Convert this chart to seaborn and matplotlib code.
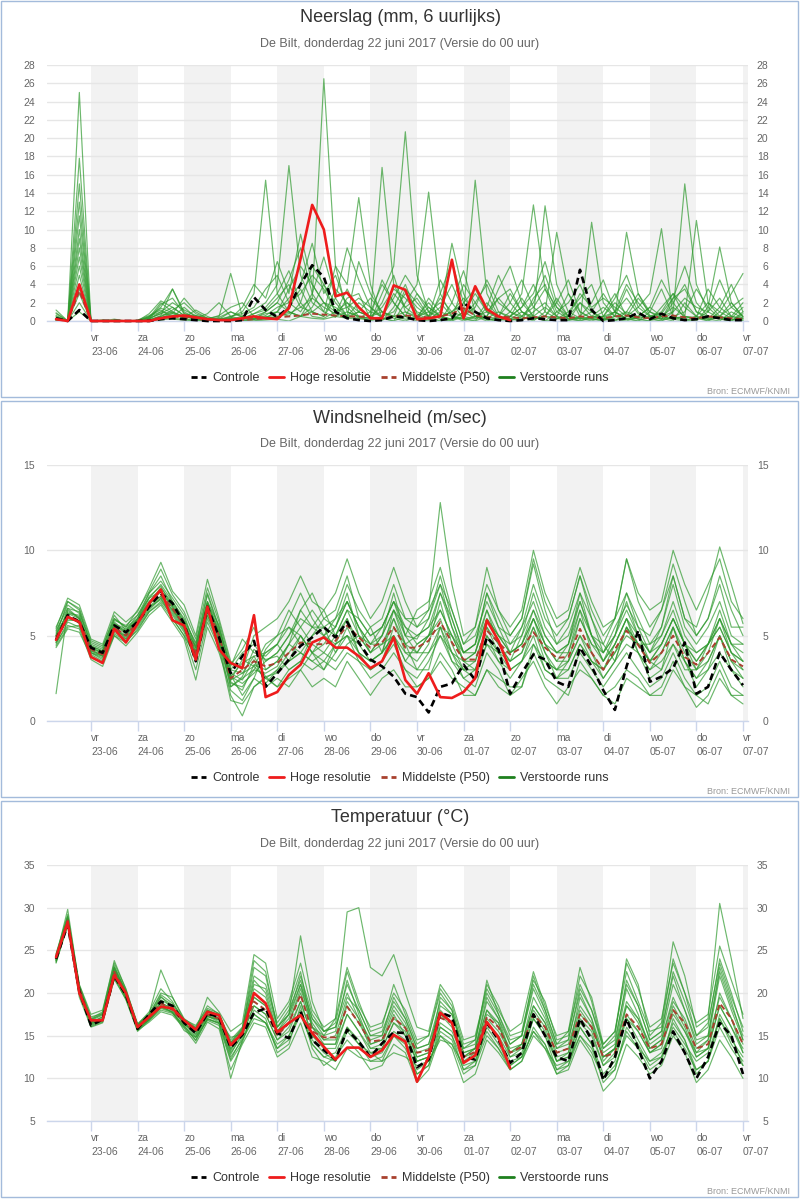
import matplotlib
matplotlib.use('Agg')
import pandas as pd
import matplotlib.pyplot as plt
import matplotlib.dates as mdates
from matplotlib.lines import Line2D
from matplotlib.patches import Rectangle
import seaborn as sns

# ── Data ─────────────────────────────────────────────────
tijden = pd.date_range('2017-06-22 06:00', periods=60, freq='6h')
dagen = pd.date_range('2017-06-23', '2017-07-07', freq='D')
dag_labels = ['vr\n23-06', 'za\n24-06', 'zo\n25-06', 'ma\n26-06', 'di\n27-06',
              'wo\n28-06', 'do\n29-06', 'vr\n30-06', 'za\n01-07', 'zo\n02-07',
              'ma\n03-07', 'di\n04-07', 'wo\n05-07', 'do\n06-07', 'vr\n07-07']

# neerslag (mm per 6 uur)
neerslag_controle = [0.3, 0, 1.2, 0, 0, 0, 0, 0, 0, 0.2, 0.3, 0.2, 0.1, 0, 0, 0, 0.1, 2.6, 1.2,
                     0.45, 1.5, 4.0, 6.1, 4.8, 1.0, 0.3, 0.1, 0, 0.1, 0.5, 0.4, 0.1, 0, 0.1, 0.3,
                     2.0, 1.0, 0.3, 0.1, 0, 0.1, 0.3, 0.2, 0.1, 0.1, 5.6, 1.2, 0, 0.1, 0.3, 0.9,
                     0.2, 0.8, 0.3, 0.1, 0.2, 0.5, 0.3, 0.1, 0.1]
neerslag_hoge_res = [0.2, 0, 4.0, 0, 0, 0, 0, 0, 0, 0.3, 0.5, 0.6, 0.4, 0.2, 0.1, 0.1, 0.3, 0.5, 0.3,
                     0.2, 1.4, 6.8, 12.7, 10.0, 2.7, 3.1, 1.5, 0.3, 0.3, 3.9, 3.4, 0.2, 0.3, 0.5, 6.7,
                     0.3, 3.8, 1.3, 0.5, 0.1]
neerslag_mediaan = [0.2, 0, 3.3, 0, 0, 0, 0, 0, 0.1, 0.4, 0.5, 0.4, 0.2, 0.1, 0.1, 0.1, 0.1, 0.2, 0.3,
                    0.4, 0.5, 0.6, 0.8, 0.7, 0.6, 0.5, 0.5, 0.4, 0.3, 0.5, 0.6, 0.5, 0.4, 0.5, 0.8,
                    1.4, 0.6, 0.4, 0.5, 0.4, 0.3, 0.4, 0.5, 0.4, 0.3, 0.5, 0.4, 0.3, 0.5, 0.6, 0.4,
                    0.3, 0.5, 0.6, 0.4, 0.3, 0.5, 0.4, 0.3, 0.2]
neerslag_runs = [
    [0.8, 0, 25.0, 0, 0, 0.1, 0, 0, 0.3, 0.8, 1.5, 0.6, 0.2, 0, 0.3, 0.2, 0.5, 1.2, 2.0, 4.0, 17.0, 5.0, 2.0,
     1.0, 0.4, 2.5, 3.0, 0.2, 0, 1.5, 4.0, 0.8, 0.2, 0, 2.0, 5.5, 1.0, 0.2, 0, 1.0, 3.0, 12.7, 3.5,
     0.5, 0, 2.0, 1.0, 0.2, 0, 1.0, 3.0, 0.6, 0.2, 2.0, 4.0, 1.0, 0.2, 0, 1.0, 0.3],
    [0.2, 0, 17.8, 0, 0, 0, 0, 0, 0.5, 1.5, 3.5, 1.0, 0.3, 0.8, 2.0, 0.5, 1.0, 3.0, 15.4, 3.0, 1.0, 0.5, 2.5,
     26.5, 6.0, 1.0, 0.5, 0.2, 2.0, 5.0, 1.0, 0.3, 0, 3.0, 6.5, 2.0, 0.5, 0, 0.5, 3.0, 1.0, 0.5, 12.6,
     4.0, 1.0, 0.3, 0, 0.5, 2.0, 0.8, 0.2, 0, 1.5, 3.0, 0.5, 11.0, 2.0, 0.5, 0.2, 0],
    [0, 0, 15.0, 0, 0, 0, 0, 0, 0.2, 1.0, 0.8, 2.5, 1.0, 0.3, 0.5, 5.2, 0.5, 0.2, 1.0, 2.0, 4.5, 8.0, 3.0,
     1.0, 6.0, 4.0, 13.5, 4.0, 0.3, 0, 2.0, 4.0, 14.1, 3.0, 0.5, 0.2, 0, 1.5, 5.0, 2.0, 0.5, 0, 1.0,
     9.7, 3.0, 0.5, 0.2, 0, 1.0, 2.5, 0.8, 0.3, 0, 1.0, 15.0, 4.0, 1.0, 0.3, 0, 0.8],
    [0, 0, 13.0, 0, 0, 0, 0, 0, 0.4, 2.0, 1.0, 0.3, 0, 0, 0, 0.3, 1.5, 4.0, 2.5, 6.5, 3.0, 9.5, 4.0,
     2.0, 0.5, 0.3, 1.0, 0.5, 16.8, 4.0, 1.5, 0.5, 2.0, 0.5, 0, 1.0, 15.4, 3.0, 0.5, 0.2, 0, 2.5, 4.0,
     1.0, 0.3, 0, 10.8, 2.0, 0.5, 0.2, 0, 1.0, 3.5, 0.5, 0.2, 0, 1.5, 8.1, 2.0, 0.5],
    [0.5, 0, 10.0, 0, 0.1, 0, 0, 0, 0, 0.5, 1.0, 0.5, 0.2, 0, 0.2, 0, 0.3, 0.8, 1.5, 3.0, 5.5, 2.0, 6.0,
     4.0, 1.0, 2.0, 0.5, 0, 3.0, 6.0, 20.7, 5.0, 1.0, 0.2, 0, 0.5, 2.0, 4.0, 1.0, 0.3, 0, 1.0, 2.0,
     0.5, 3.0, 1.0, 0.3, 0, 0.5, 9.7, 3.0, 1.0, 0.3, 0, 2.0, 0.5, 0, 1.0, 3.0, 5.2],
    [0.3, 0, 8.0, 0, 0, 0, 0, 0.1, 0.6, 1.2, 0.4, 1.5, 0.4, 0.1, 0, 0.2, 0, 0.3, 0.8, 1.0, 2.5, 4.0, 8.5,
     3.0, 5.0, 1.5, 0.3, 0, 0.5, 1.0, 3.0, 1.5, 0.5, 4.5, 2.0, 0.3, 0, 0.5, 3.5, 6.0, 2.0, 0.5, 0,
     1.0, 2.0, 4.0, 1.0, 0.3, 0, 0.5, 1.5, 3.0, 10.1, 0.5, 0, 0.2, 1.0, 2.5, 0.5, 0.2],
    [0.1, 0, 6.0, 0, 0, 0, 0, 0, 0.1, 0.6, 3.5, 0.8, 0.3, 0.1, 0.2, 1.0, 0.4, 0.2, 0.5, 0.3, 1.5, 3.5, 1.0,
     0.5, 2.5, 8.0, 4.5, 1.5, 0.3, 0, 0.5, 0.2, 2.5, 1.0, 8.5, 3.0, 0.5, 0.2, 0, 0.5, 1.5, 4.0, 1.0,
     0.3, 0, 0.5, 2.0, 4.5, 1.0, 0.3, 0, 0.5, 0.8, 2.5, 6.0, 2.0, 0.5, 0.2, 0, 1.0],
    [0, 0, 5.0, 0, 0, 0, 0, 0, 0.3, 0.8, 0.6, 0.4, 1.2, 0.5, 0, 0, 0.2, 0.5, 1.0, 2.0, 1.0, 0.5, 1.5,
     4.0, 2.0, 0.5, 6.5, 3.0, 1.0, 0.3, 0, 0.5, 1.0, 2.0, 0.5, 0, 0.5, 1.0, 2.5, 1.0, 0.3, 0.2, 0.5,
     2.5, 0.5, 0, 0.3, 1.0, 3.0, 0.5, 0.2, 0, 0.5, 1.5, 0.5, 0.3, 0, 0.5, 2.0, 0.4],
    [0.4, 0, 4.0, 0, 0, 0.2, 0, 0, 0.8, 2.2, 1.5, 0.6, 0.1, 0, 0.1, 0.4, 0.1, 0, 0.3, 0.5, 0.8, 1.5, 2.5,
     1.5, 0.8, 3.5, 1.0, 0.5, 4.5, 2.0, 0.5, 0, 0.3, 0.5, 1.0, 2.5, 1.0, 0.5, 0.2, 0, 0.5, 2.0, 5.0,
     1.5, 0.2, 0, 0.5, 1.5, 0.5, 3.5, 1.0, 0.2, 0, 0.5, 1.0, 3.5, 1.5, 0.3, 0, 0],
    [0, 0, 3.0, 0, 0, 0, 0, 0, 0, 0.4, 0.8, 0.3, 0.6, 0.2, 0, 0, 0.1, 0.2, 0.4, 1.0, 0.5, 2.0, 0.5,
     0.3, 1.0, 0.5, 2.0, 1.0, 0.5, 3.0, 1.5, 2.5, 0.5, 0, 0.2, 1.0, 3.0, 1.0, 0.3, 0.5, 2.5, 0.5, 0,
     0.2, 1.0, 2.5, 4.0, 0.5, 0.2, 0, 0.5, 1.5, 0.5, 0.2, 0, 0.5, 2.0, 1.0, 0.3, 1.5],
    [0, 0, 2.0, 0, 0, 0, 0, 0, 0.2, 0.3, 0.2, 0.1, 0, 0, 0, 0, 0, 0.2, 0.2, 0.5, 1.0, 0.5, 0.3,
     0.2, 0.5, 1.0, 0.5, 0.3, 0.2, 0.5, 1.0, 0.5, 0.2, 1.0, 0.5, 0.2, 0.5, 0.3, 1.0, 0.5, 0.2, 0.5, 1.5,
     0.5, 0.2, 0.3, 0.2, 0.2, 0.5, 1.0, 0.5, 0.3, 0.5, 0.2, 0.5, 0.3, 0.2, 0.5, 0.2, 0.1],
    [1.2, 0, 1.0, 0, 0, 0, 0, 0, 0, 0.1, 0.3, 0.2, 0, 0, 0, 0.3, 0, 0, 0.1, 0.2, 0, 0.5, 1.0,
     2.0, 1.0, 0.3, 0.2, 0.5, 1.0, 0.5, 0.2, 0.3, 1.5, 0.5, 0.2, 0.5, 0.2, 2.0, 0.5, 0.2, 1.0, 0.3, 0.5,
     0.3, 0.5, 0.2, 0.5, 0.3, 1.0, 0.2, 0.3, 0.5, 0.2, 0.3, 0.5, 0.2, 0.5, 0.3, 0.5, 0.3],
    [0.6, 0, 7.0, 0, 0, 0, 0, 0, 0.2, 1.8, 2.5, 0.8, 0.5, 0.2, 0.6, 1.5, 2.0, 0.5, 0.3, 1.0, 3.5, 6.0, 4.0,
     2.0, 1.5, 0.5, 1.0, 2.5, 1.0, 0.5, 3.5, 2.0, 0.5, 1.5, 4.0, 1.0, 0.3, 0.5, 2.5, 3.5, 1.0, 0.2, 0.5,
     2.0, 4.5, 1.0, 0.3, 0.5, 2.5, 5.0, 1.5, 0.5, 1.0, 3.0, 1.5, 0.5, 3.5, 1.5, 0.5, 2.0],
    [0.2, 0, 11.5, 0, 0, 0, 0, 0, 0.5, 1.0, 2.0, 1.2, 0.6, 0.3, 0.1, 0.5, 0.8, 1.5, 3.5, 5.0, 2.0, 1.0, 3.0,
     7.0, 2.5, 0.5, 0.3, 1.0, 4.0, 2.0, 0.5, 3.0, 1.0, 0.5, 0.2, 4.0, 2.0, 0.3, 0, 0.5, 1.5, 3.0, 6.5,
     2.0, 0.5, 0.3, 1.0, 3.0, 1.0, 0.2, 0.5, 1.5, 4.5, 2.0, 0.3, 0.5, 0.2, 1.5, 4.0, 1.0],
    [0, 0, 3.5, 0, 0.1, 0, 0, 0, 0.1, 0.5, 1.2, 2.0, 0.8, 0.3, 0.2, 0.5, 0.2, 0.8, 1.2, 2.5, 4.0, 1.5, 1.0,
     0.5, 3.5, 2.0, 1.0, 0.5, 1.5, 3.5, 2.5, 1.0, 0.5, 2.5, 1.0, 0.5, 1.5, 4.5, 2.0, 1.0, 0.5, 1.5, 3.5,
     1.5, 0.5, 2.0, 0.5, 0.5, 1.0, 4.0, 2.0, 0.5, 0.2, 2.5, 3.5, 1.0, 0.5, 0.5, 1.5, 2.5],
    [0.9, 0, 9.0, 0, 0, 0, 0, 0, 0.4, 1.4, 0.9, 0.5, 0.3, 0, 0.4, 1.0, 0.5, 0.2, 0.6, 1.5, 2.0, 3.0, 5.0,
     3.5, 1.0, 1.5, 2.5, 1.5, 0.5, 2.5, 5.0, 3.0, 1.5, 0.5, 1.0, 2.0, 3.5, 1.0, 0.5, 2.0, 4.5, 1.5, 0.5,
     0.3, 0.5, 3.0, 1.5, 2.5, 1.5, 0.5, 2.5, 1.0, 0.5, 1.0, 2.5, 1.5, 1.0, 4.5, 1.5, 0.5],
]

# windsnelheid (m/sec)
wind_controle = [4.75, 6.2, 5.8, 4.3, 4.0, 5.6, 5.2, 5.8, 6.7, 7.5, 6.9, 5.7, 3.5, 6.7, 4.9,
                 2.8, 3.8, 4.7, 2.0, 2.8, 3.6, 4.4, 4.9, 5.5, 4.9, 5.8, 4.6, 3.6, 3.2, 2.6, 1.6,
                 1.4, 0.5, 2.0, 2.2, 3.3, 2.4, 4.9, 4.2, 1.6, 2.8, 3.9, 3.6, 2.3, 2.0, 4.3, 3.2,
                 1.8, 0.65, 3.2, 5.3, 2.3, 2.6, 3.1, 4.6, 1.6, 2.0, 4.0, 3.0, 2.1]
wind_hoge_res = [4.75, 6.1, 5.8, 3.75, 3.4, 5.4, 4.6, 5.7, 6.9, 7.7, 5.9, 5.6, 3.6, 6.7, 4.2,
                 3.4, 3.1, 6.2, 1.4, 1.7, 2.7, 3.3, 4.6, 4.9, 4.3, 4.3, 3.8, 3.1, 3.5, 4.9, 2.4,
                 1.6, 2.8, 1.4, 1.35, 1.7, 2.5, 5.9, 4.7, 3.0]
wind_mediaan = [4.9, 6.1, 5.9, 4.2, 3.9, 5.5, 5.0, 5.8, 6.8, 7.4, 6.6, 5.6, 4.0, 6.6, 5.0,
                2.5, 3.0, 3.5, 3.2, 3.4, 4.0, 4.6, 4.5, 4.5, 4.7, 5.6, 4.9, 4.3, 4.6, 5.5, 4.3,
                4.3, 4.7, 5.8, 4.6, 3.6, 3.6, 5.3, 4.6, 3.9, 4.3, 5.2, 4.3, 3.7, 3.75, 5.4, 4.0,
                3.0, 4.2, 5.3, 4.45, 3.4, 4.0, 5.0, 3.75, 3.3, 4.0, 4.9, 3.6, 3.2]
wind_runs = [
    [1.6, 6.5, 6.0, 4.0, 3.6, 5.2, 4.8, 5.5, 6.5, 7.2, 6.0, 5.0, 3.8, 6.2, 4.6, 2.0, 2.5, 3.0, 2.8,
     3.2, 4.5, 5.5, 6.5, 5.5, 6.0, 7.0, 5.5, 4.0, 5.0, 6.5, 5.0, 4.8, 6.0, 8.5, 6.0, 4.0, 4.5, 7.5, 5.5,
     4.0, 5.5, 7.0, 5.0, 4.0, 4.5, 7.5, 5.0, 3.5, 5.0, 6.5, 5.0, 3.5, 4.5, 6.0, 4.5, 3.0, 4.0, 6.0, 4.0, 3.5],
    [5.0, 7.0, 6.5, 4.5, 4.2, 6.0, 5.5, 6.0, 7.5, 8.5, 7.0, 6.0, 4.5, 7.5, 5.5, 3.0, 4.0, 4.5, 3.5,
     4.0, 5.0, 6.5, 5.5, 5.0, 6.0, 8.0, 6.5, 5.5, 6.0, 8.0, 6.0, 5.5, 6.5, 12.8, 8.0, 5.0, 5.5, 9.0, 6.5,
     5.0, 6.0, 9.5, 7.0, 5.5, 6.0, 8.5, 6.0, 4.5, 6.0, 9.5, 7.0, 5.5, 6.5, 8.5, 6.0, 5.5, 7.5, 10.2, 8.0, 5.7],
    [4.5, 5.8, 5.5, 3.9, 3.5, 5.0, 4.6, 5.4, 6.4, 7.0, 6.2, 5.2, 3.5, 6.0, 4.5, 1.5, 0.3, 2.0, 2.5,
     2.0, 3.0, 3.5, 3.0, 3.5, 3.0, 4.0, 3.5, 2.5, 3.0, 4.0, 3.0, 2.0, 2.5, 3.5, 2.5, 2.0, 1.5, 3.0, 2.0,
     1.5, 2.5, 3.5, 2.0, 1.0, 2.0, 3.0, 2.5, 1.5, 1.0, 2.5, 2.0, 1.5, 2.0, 3.5, 2.0, 0.8, 1.5, 3.0, 1.5, 1.0],
    [5.2, 6.8, 6.3, 4.6, 4.3, 6.2, 5.3, 6.2, 7.5, 8.2, 7.2, 6.2, 4.3, 7.4, 5.4, 3.2, 4.8, 4.0, 3.8,
     4.5, 6.0, 7.5, 6.0, 5.0, 5.5, 7.0, 5.5, 4.5, 5.0, 7.5, 5.0, 6.5, 7.0, 9.0, 6.5, 4.5, 5.0, 7.0, 5.5,
     5.0, 6.0, 9.2, 6.5, 4.5, 5.5, 7.5, 6.0, 4.0, 5.5, 6.8, 5.5, 5.0, 6.5, 9.2, 7.0, 5.0, 6.0, 8.5, 6.5, 5.0],
    [4.8, 6.0, 5.8, 4.0, 3.7, 5.4, 4.9, 5.6, 6.6, 7.2, 6.4, 5.4, 3.8, 6.4, 4.8, 2.2, 2.0, 3.0, 4.0,
     4.5, 3.5, 4.0, 5.0, 5.5, 4.0, 5.0, 4.0, 3.5, 4.0, 5.0, 3.5, 3.0, 4.0, 5.0, 4.0, 3.0, 3.0, 4.5, 3.5,
     3.0, 3.5, 4.5, 3.5, 3.0, 3.0, 4.5, 3.5, 2.5, 3.5, 4.5, 4.0, 3.0, 3.5, 4.5, 3.5, 2.5, 3.0, 4.0, 3.0, 2.5],
    [5.4, 7.2, 6.8, 4.8, 4.5, 6.4, 5.8, 6.4, 7.8, 9.3, 7.6, 6.8, 5.0, 8.3, 6.0, 3.5, 3.0, 5.0, 5.5,
     6.0, 7.0, 8.5, 7.0, 6.5, 7.5, 9.5, 7.5, 6.0, 7.0, 9.0, 7.0, 5.5, 6.0, 8.0, 6.5, 4.5, 5.5, 8.0, 6.5,
     5.5, 6.5, 10.0, 7.5, 6.0, 6.5, 9.0, 7.0, 5.5, 6.0, 9.5, 7.5, 6.5, 7.0, 10.0, 8.0, 6.5, 8.0, 9.5, 7.0, 6.0],
    [4.6, 5.6, 5.4, 3.6, 3.2, 5.0, 4.4, 5.2, 6.2, 6.8, 5.8, 4.8, 2.4, 5.5, 4.0, 1.8, 1.2, 2.5, 2.0,
     2.5, 2.0, 3.0, 4.0, 3.0, 4.0, 5.5, 4.0, 3.0, 3.5, 4.5, 3.0, 2.5, 3.5, 5.0, 3.5, 2.5, 2.0, 4.0, 3.0,
     1.5, 2.0, 4.5, 3.0, 2.5, 2.5, 4.0, 3.0, 2.0, 3.0, 4.0, 3.0, 2.0, 2.5, 4.0, 2.5, 1.5, 2.0, 3.5, 2.0, 1.5],
    [5.0, 6.4, 6.1, 4.3, 4.0, 5.7, 5.1, 6.0, 7.0, 7.8, 6.9, 5.8, 4.2, 6.9, 5.2, 2.6, 2.2, 2.8, 3.5,
     4.0, 5.0, 6.0, 5.5, 5.5, 5.0, 6.5, 5.0, 4.5, 5.5, 7.0, 5.0, 4.0, 5.0, 7.5, 5.5, 3.5, 4.0, 6.0, 5.0,
     4.0, 4.5, 6.5, 5.0, 4.0, 4.0, 6.0, 4.5, 3.5, 4.5, 6.0, 5.0, 4.0, 5.0, 6.5, 4.5, 3.5, 4.5, 6.5, 4.5, 3.5],
    [4.4, 5.5, 5.6, 4.1, 3.8, 5.3, 5.0, 5.9, 7.2, 8.0, 7.0, 5.9, 4.6, 7.0, 5.6, 3.0, 2.8, 3.8, 2.6,
     2.8, 3.5, 4.0, 3.5, 3.0, 4.5, 6.0, 4.0, 3.5, 4.0, 6.0, 4.0, 3.5, 4.5, 7.0, 4.5, 3.0, 2.5, 4.5, 4.0,
     3.0, 3.5, 5.5, 3.5, 3.0, 4.0, 6.5, 4.0, 2.5, 3.5, 5.5, 4.0, 3.0, 4.0, 5.5, 3.5, 2.0, 3.0, 5.0, 3.0, 2.0],
    [5.3, 6.6, 6.4, 4.4, 4.1, 5.9, 5.6, 6.2, 7.2, 7.6, 6.8, 5.7, 3.6, 6.4, 5.1, 2.4, 3.6, 3.2, 4.5,
     5.0, 6.5, 5.5, 4.5, 4.0, 5.0, 6.5, 6.0, 5.0, 5.5, 7.0, 5.5, 5.0, 5.5, 7.5, 6.0, 4.0, 4.5, 6.5, 5.0,
     4.5, 5.0, 7.5, 5.5, 4.5, 5.0, 7.0, 5.0, 4.0, 5.0, 7.5, 5.5, 4.0, 5.5, 8.0, 5.5, 4.5, 5.5, 7.0, 5.0, 4.5],
    [4.7, 6.2, 5.7, 4.0, 3.8, 5.6, 5.2, 5.7, 6.9, 7.3, 6.5, 5.5, 4.1, 6.7, 4.7, 2.8, 2.4, 3.6, 2.2,
     3.0, 4.0, 5.0, 4.0, 5.0, 4.5, 5.0, 4.5, 5.5, 4.0, 5.0, 3.5, 4.5, 5.0, 6.0, 4.0, 2.5, 3.0, 5.0, 4.0,
     3.5, 4.0, 5.5, 4.0, 2.5, 3.5, 5.0, 3.5, 3.0, 4.0, 5.0, 4.5, 3.5, 3.0, 4.5, 3.0, 3.0, 3.5, 5.0, 3.5, 2.5],
    [5.1, 6.3, 6.2, 4.2, 4.0, 5.5, 4.8, 5.8, 6.7, 7.1, 6.3, 5.3, 3.9, 6.2, 4.6, 2.3, 1.8, 3.3, 3.0,
     3.5, 4.5, 4.0, 3.5, 4.0, 3.5, 4.5, 5.0, 4.0, 4.5, 5.0, 4.0, 4.0, 4.0, 5.5, 5.0, 3.5, 3.5, 5.5, 4.5,
     3.5, 4.0, 6.0, 4.5, 3.5, 3.5, 5.0, 4.0, 3.0, 4.0, 5.5, 4.5, 3.5, 4.0, 5.5, 4.0, 3.0, 4.5, 5.5, 4.0, 3.0],
    [4.9, 5.9, 5.9, 4.3, 4.0, 5.8, 5.2, 6.0, 7.3, 7.9, 6.7, 5.4, 4.4, 6.9, 5.0, 2.0, 2.6, 4.2, 3.6,
     3.8, 3.0, 3.5, 5.0, 6.0, 5.5, 7.5, 5.0, 4.0, 5.0, 6.5, 4.5, 5.0, 5.5, 6.5, 5.0, 3.5, 4.0, 6.5, 4.5,
     3.5, 5.0, 6.5, 4.5, 4.0, 4.5, 7.0, 5.0, 3.5, 4.5, 6.0, 4.5, 4.5, 5.0, 7.0, 5.0, 4.0, 4.5, 6.0, 4.5, 4.5],
    [4.3, 5.4, 5.2, 3.8, 3.4, 5.1, 4.7, 5.3, 6.4, 6.9, 6.0, 5.0, 3.0, 5.8, 4.3, 1.2, 1.0, 2.0, 2.6,
     2.0, 2.5, 3.0, 2.0, 2.5, 2.0, 3.5, 2.5, 1.5, 2.5, 3.0, 2.0, 2.0, 2.5, 4.0, 3.0, 1.5, 1.5, 3.0, 2.5,
     2.0, 2.0, 4.0, 2.5, 2.0, 1.5, 3.5, 2.5, 1.5, 2.0, 3.0, 2.5, 1.5, 1.5, 3.0, 2.0, 1.5, 1.0, 2.5, 1.5, 1.5],
    [4.6, 6.6, 6.0, 4.1, 3.9, 5.7, 5.4, 5.9, 6.8, 7.6, 6.6, 5.6, 4.0, 7.0, 5.3, 2.7, 1.5, 2.5, 4.2,
     5.0, 5.5, 4.5, 5.5, 6.5, 5.0, 6.0, 4.5, 3.5, 4.0, 6.5, 5.5, 4.5, 5.0, 5.5, 3.5, 3.0, 3.5, 5.5, 4.0,
     4.0, 4.5, 6.0, 4.0, 3.0, 3.5, 6.0, 4.5, 4.0, 5.0, 7.0, 5.0, 4.0, 4.5, 6.0, 4.5, 3.5, 4.5, 5.5, 4.0, 3.5],
    [5.5, 7.0, 6.6, 4.7, 4.4, 6.0, 5.5, 6.5, 7.6, 8.9, 7.4, 6.4, 4.8, 7.8, 5.8, 3.3, 4.2, 5.5, 3.0,
     3.5, 4.5, 6.5, 7.5, 6.0, 6.5, 8.5, 6.0, 5.0, 5.5, 7.0, 6.0, 6.0, 6.5, 8.0, 5.5, 4.0, 4.5, 7.5, 6.0,
     4.5, 5.5, 8.0, 6.0, 5.0, 6.0, 8.5, 6.5, 5.0, 6.0, 7.5, 6.0, 4.5, 5.5, 8.5, 6.0, 5.0, 6.0, 8.0, 5.5, 5.5],
    [4.8, 6.1, 5.9, 4.2, 3.8, 5.5, 5.0, 5.7, 6.7, 7.3, 6.5, 5.6, 3.9, 6.6, 4.9, 2.4, 2.8, 3.2, 2.5,
     3.0, 3.5, 5.0, 4.0, 3.5, 4.5, 5.0, 3.5, 3.0, 3.5, 5.5, 4.5, 3.0, 3.0, 5.5, 4.0, 3.5, 3.0, 5.0, 3.5,
     2.5, 3.5, 5.0, 3.0, 2.5, 3.0, 4.5, 3.5, 3.0, 4.5, 6.0, 4.0, 2.5, 3.0, 5.5, 3.5, 2.5, 3.5, 5.0, 3.5, 3.0],
    [5.0, 6.3, 6.0, 4.4, 4.1, 5.6, 5.3, 5.9, 7.0, 7.6, 6.7, 5.8, 4.3, 6.8, 5.2, 2.6, 3.4, 3.8, 4.0,
     4.5, 5.5, 5.0, 4.0, 4.5, 5.5, 7.0, 5.5, 4.5, 4.5, 6.0, 4.5, 4.0, 5.0, 6.5, 5.0, 4.0, 4.0, 6.0, 5.0,
     4.0, 4.5, 6.0, 4.5, 3.5, 4.5, 6.5, 5.0, 4.5, 3.5, 5.5, 4.5, 3.5, 4.5, 6.0, 4.5, 4.0, 4.5, 6.0, 4.5, 4.0],
]

# temperatuur (graden C)
temp_controle = [24.0, 28.0, 20.2, 16.2, 16.9, 22.0, 19.8, 15.8, 17.5, 19.0, 18.5, 16.5, 15.3, 17.6, 17.2,
                 13.6, 15.1, 17.7, 18.2, 15.3, 14.7, 17.8, 14.5, 13.3, 12.2, 15.7, 14.3, 12.5, 14.1, 15.4,
                 15.3, 11.3, 12.2, 17.7, 17.2, 12.5, 12.2, 16.5, 14.5, 11.8, 13.0, 17.5, 15.0, 12.5, 12.0,
                 17.0, 14.5, 9.8, 12.5, 17.0, 13.5, 10.0, 12.0, 15.5, 13.0, 10.0, 12.5, 16.5, 15.0, 10.5]
temp_hoge_res = [24.2, 28.3, 20.0, 16.8, 16.8, 22.1, 20.0, 16.0, 17.2, 18.4, 18.2, 16.8, 15.7, 17.8, 17.4,
                 13.9, 15.3, 20.0, 18.8, 15.4, 16.5, 17.4, 15.3, 13.7, 12.2, 13.6, 13.6, 12.5, 13.3, 15.1,
                 14.3, 9.6, 12.5, 17.7, 16.5, 11.8, 12.7, 16.6, 14.8, 11.2]
temp_mediaan = [24.0, 28.5, 20.5, 16.5, 17.0, 22.5, 19.8, 16.0, 17.3, 18.8, 18.0, 16.5, 15.5, 17.5, 17.0,
                13.8, 15.5, 19.0, 18.0, 15.0, 16.5, 19.8, 15.5, 14.8, 14.8, 18.4, 16.5, 14.3, 14.5, 17.1,
                15.9, 13.0, 13.3, 17.1, 16.5, 12.5, 13.1, 17.2, 16.0, 13.0, 13.7, 17.5, 16.0, 13.0, 13.5,
                17.5, 16.0, 12.5, 13.0, 17.5, 16.0, 13.5, 14.0, 18.0, 16.5, 13.5, 14.0, 18.8, 17.0, 14.0]
temp_runs = [
    [24.2, 29.8, 20.8, 17.0, 17.8, 23.8, 20.4, 16.4, 17.6, 22.7, 19.5, 16.8, 15.6, 19.5, 17.8,
     15.5, 16.5, 24.5, 23.5, 17.0, 19.0, 23.5, 18.0, 16.0, 17.0, 23.0, 19.0, 15.5, 16.0, 21.0, 17.5,
     14.0, 15.0, 20.0, 18.0, 13.5, 14.0, 21.5, 17.5, 14.5, 15.0, 22.0, 18.0, 14.0, 15.5, 23.0, 19.0,
     13.5, 15.0, 24.0, 21.0, 15.0, 16.5, 26.0, 22.0, 16.0, 17.0, 30.5, 24.0, 17.0],
    [23.5, 28.0, 19.5, 16.0, 16.5, 21.8, 19.2, 15.5, 16.8, 18.0, 17.6, 16.0, 14.5, 17.0, 16.5,
     12.5, 14.5, 17.5, 16.5, 13.5, 15.0, 18.0, 14.5, 13.0, 12.0, 16.0, 14.0, 12.0, 12.5, 15.0, 14.0,
     10.5, 11.5, 16.0, 15.0, 11.0, 12.0, 16.5, 14.5, 12.0, 12.5, 17.0, 15.0, 11.0, 11.5, 16.0, 14.0,
     9.5, 11.0, 15.5, 13.5, 11.0, 12.0, 17.0, 14.5, 10.5, 12.0, 17.5, 15.0, 11.5],
    [24.5, 29.0, 21.0, 17.5, 18.0, 23.5, 20.5, 16.2, 17.5, 20.0, 19.5, 17.0, 16.0, 18.5, 17.5,
     14.5, 16.0, 22.0, 21.0, 16.5, 18.5, 22.5, 16.0, 15.0, 17.0, 29.5, 30.0, 23.0, 22.0, 24.5, 20.0,
     16.0, 15.5, 21.0, 19.0, 14.5, 15.0, 20.5, 18.0, 15.5, 16.5, 22.5, 18.5, 15.0, 15.5, 21.0, 18.0,
     14.0, 15.5, 22.5, 19.0, 15.5, 16.0, 24.0, 20.0, 15.0, 16.5, 23.5, 19.5, 16.0],
    [24.0, 28.8, 20.2, 16.5, 17.2, 22.8, 19.8, 16.0, 17.2, 19.2, 18.4, 16.5, 15.2, 17.6, 17.0,
     13.5, 15.4, 21.5, 20.0, 15.5, 17.5, 26.7, 19.0, 15.5, 16.0, 20.0, 17.0, 14.5, 15.0, 19.5, 17.0,
     13.5, 14.0, 18.0, 16.5, 12.5, 13.5, 19.0, 17.0, 13.0, 14.0, 18.5, 16.5, 12.5, 13.0, 19.5, 17.0,
     12.0, 13.5, 20.5, 17.5, 13.5, 14.5, 19.5, 16.5, 13.0, 14.5, 22.0, 18.0, 14.5],
    [23.8, 28.2, 19.8, 16.3, 16.8, 22.0, 19.5, 15.8, 16.8, 18.3, 17.8, 15.6, 14.8, 16.8, 16.2,
     12.0, 14.2, 18.0, 17.0, 13.0, 14.0, 18.5, 13.5, 11.5, 12.5, 14.5, 13.0, 11.0, 11.5, 14.0, 13.0,
     9.5, 11.0, 15.0, 13.5, 9.5, 10.5, 14.5, 13.0, 11.0, 12.0, 15.0, 13.5, 10.5, 11.0, 14.5, 12.5,
     8.5, 10.0, 14.0, 12.5, 10.5, 11.5, 15.0, 13.0, 9.5, 11.0, 14.5, 12.5, 10.0],
    [24.3, 28.6, 20.6, 16.8, 17.4, 23.0, 20.0, 16.1, 17.4, 18.6, 18.0, 16.7, 15.9, 17.8, 17.2,
     14.0, 15.7, 20.5, 19.5, 15.5, 17.0, 21.0, 17.0, 15.0, 15.5, 21.5, 17.5, 14.0, 14.5, 18.0, 16.0,
     12.5, 13.0, 18.5, 17.5, 13.0, 13.5, 18.0, 16.0, 13.5, 14.0, 19.5, 17.0, 13.5, 14.0, 18.5, 16.5,
     12.5, 13.5, 19.0, 17.0, 14.0, 15.0, 21.0, 18.0, 14.5, 15.0, 22.5, 18.5, 15.0],
    [23.6, 27.9, 20.0, 16.1, 16.6, 21.6, 19.3, 15.6, 16.6, 17.8, 17.4, 15.9, 14.1, 16.6, 15.8,
     11.0, 14.0, 16.5, 16.0, 12.5, 13.5, 16.5, 12.5, 12.0, 11.0, 13.5, 12.5, 12.0, 12.0, 13.0, 12.5,
     11.5, 12.0, 14.5, 14.0, 11.5, 12.0, 15.5, 13.5, 11.0, 12.0, 16.0, 14.0, 10.5, 11.5, 15.0, 13.0,
     10.0, 11.0, 16.0, 14.0, 11.5, 12.5, 16.5, 14.5, 11.0, 12.0, 17.0, 14.0, 12.0],
    [24.1, 28.4, 20.4, 16.6, 17.0, 22.6, 19.9, 16.0, 17.0, 19.6, 18.2, 16.3, 15.5, 17.3, 16.8,
     14.8, 15.2, 19.5, 18.5, 15.0, 16.5, 20.5, 16.5, 14.5, 15.0, 19.5, 18.0, 15.0, 15.0, 18.5, 16.5,
     13.0, 13.5, 17.5, 16.5, 12.0, 13.0, 17.5, 16.5, 12.5, 13.5, 18.0, 16.0, 12.0, 12.5, 17.0, 15.5,
     11.5, 13.0, 18.5, 16.5, 13.0, 14.0, 18.5, 16.0, 12.5, 13.5, 20.0, 17.0, 13.0],
    [23.9, 28.1, 20.3, 16.4, 16.9, 22.3, 19.6, 15.9, 17.1, 18.9, 18.1, 16.4, 14.9, 17.2, 16.9,
     13.0, 15.0, 18.5, 17.5, 14.5, 16.0, 19.0, 15.0, 13.5, 13.5, 17.5, 15.5, 13.0, 13.5, 16.5, 15.0,
     12.0, 12.5, 16.5, 15.5, 12.5, 13.0, 17.0, 15.5, 13.0, 13.5, 17.5, 15.5, 12.0, 13.0, 17.5, 16.0,
     12.5, 13.5, 17.0, 15.5, 13.0, 14.0, 17.5, 15.5, 13.0, 13.5, 18.5, 16.0, 13.5],
    [24.4, 28.7, 20.7, 16.9, 17.6, 22.9, 20.2, 16.3, 17.8, 20.5, 19.0, 16.6, 15.8, 18.0, 17.4,
     13.2, 15.6, 23.0, 22.0, 16.0, 17.5, 21.0, 16.0, 14.0, 14.0, 19.0, 17.0, 13.5, 14.0, 17.5, 15.0,
     12.0, 12.5, 19.5, 18.0, 13.0, 13.5, 19.5, 17.0, 14.0, 15.0, 20.5, 17.5, 13.5, 14.5, 20.0, 17.0,
     13.0, 14.0, 21.5, 18.5, 14.5, 15.5, 22.0, 18.0, 14.0, 15.0, 23.0, 19.0, 14.5],
    [23.7, 28.3, 20.1, 16.2, 16.7, 22.1, 19.4, 15.7, 16.9, 18.5, 17.7, 16.2, 14.4, 17.0, 16.4,
     10.0, 14.5, 17.0, 16.5, 14.0, 15.0, 17.5, 14.0, 12.5, 12.0, 15.5, 14.0, 13.0, 12.0, 15.0, 13.5,
     10.5, 11.5, 15.5, 14.5, 11.0, 11.5, 16.0, 14.0, 11.5, 12.5, 15.5, 13.5, 11.5, 12.0, 16.0, 14.0,
     10.5, 12.0, 17.0, 14.5, 12.0, 13.0, 16.0, 14.0, 12.0, 13.0, 17.0, 14.5, 12.5],
    [24.6, 29.2, 20.9, 17.2, 17.6, 23.2, 20.2, 16.3, 17.4, 19.5, 18.6, 16.9, 16.2, 18.2, 17.6,
     14.2, 15.8, 23.8, 22.5, 16.0, 17.5, 22.0, 17.5, 15.5, 16.5, 22.5, 18.5, 16.0, 16.5, 20.0, 18.0,
     14.5, 15.0, 20.5, 18.5, 14.0, 14.5, 21.0, 18.5, 15.0, 15.5, 21.5, 19.0, 14.5, 15.0, 22.0, 19.5,
     14.0, 15.5, 23.5, 20.5, 16.0, 17.0, 23.5, 20.0, 16.5, 17.5, 25.5, 21.5, 17.5],
    [24.0, 28.5, 20.4, 16.6, 17.2, 22.6, 19.9, 16.0, 17.2, 18.8, 18.2, 16.4, 15.4, 17.4, 16.9,
     13.4, 15.5, 19.5, 18.5, 15.5, 16.5, 20.0, 16.0, 14.5, 14.5, 18.5, 16.5, 14.0, 14.5, 17.0, 16.0,
     12.5, 13.0, 17.5, 16.0, 12.5, 13.5, 18.0, 16.5, 13.0, 14.0, 18.5, 16.5, 13.0, 13.5, 18.0, 16.0,
     12.5, 13.5, 18.5, 17.0, 13.5, 14.5, 19.0, 17.0, 13.5, 14.5, 19.5, 17.0, 14.0],
    [23.8, 28.4, 20.0, 16.4, 17.0, 22.3, 19.7, 15.9, 17.0, 18.4, 17.8, 16.6, 15.1, 17.3, 16.6,
     12.8, 15.3, 18.5, 17.5, 14.5, 15.5, 19.0, 15.0, 14.0, 14.0, 17.5, 15.5, 13.5, 13.5, 16.5, 15.5,
     12.0, 12.5, 16.0, 15.0, 12.0, 12.5, 16.5, 15.0, 12.5, 13.0, 17.0, 15.0, 12.0, 12.5, 16.5, 15.0,
     11.5, 12.5, 17.5, 15.5, 13.0, 13.5, 18.0, 15.5, 12.5, 13.5, 18.5, 16.0, 13.0],
    [24.3, 28.9, 20.6, 16.9, 17.5, 23.0, 20.1, 16.2, 17.5, 19.8, 18.8, 16.8, 15.9, 18.0, 17.4,
     14.2, 15.9, 21.0, 20.5, 16.0, 18.0, 21.5, 17.0, 15.5, 16.0, 21.0, 18.0, 15.0, 15.5, 19.0, 17.0,
     13.5, 14.0, 19.0, 17.5, 13.5, 14.5, 20.0, 17.5, 14.0, 15.0, 21.0, 18.0, 14.0, 14.5, 20.5, 18.0,
     13.5, 14.5, 21.0, 18.5, 14.5, 15.5, 22.5, 19.0, 15.0, 16.0, 24.0, 20.0, 15.5],
    [23.9, 28.2, 20.2, 16.5, 16.9, 22.4, 19.6, 15.8, 16.9, 18.2, 17.7, 16.1, 14.8, 16.9, 16.5,
     12.2, 14.8, 17.5, 16.5, 13.5, 14.5, 17.5, 14.0, 12.5, 13.0, 16.0, 14.5, 12.5, 13.0, 15.5, 14.5,
     11.0, 12.0, 15.0, 14.0, 10.5, 11.5, 15.0, 13.5, 11.5, 12.5, 15.5, 14.0, 11.0, 12.0, 15.0, 13.5,
     10.0, 11.5, 15.0, 13.5, 12.0, 12.5, 15.5, 13.5, 11.0, 12.0, 16.0, 13.5, 11.5],
]

GROEN = '#2f9a2f'
ROOD = '#ee1c1c'
BRUIN = '#a8412f'

# ── Setup ─────────────────────────────────────────────────
sns.set_theme(style='white')
plt.rcParams['font.family'] = ['Liberation Sans', 'DejaVu Sans']

W, H = 800, 1200
fig = plt.figure(figsize=(8, 12), dpi=100)

panelen = [
    ('Neerslag (mm, 6 uurlijks)', neerslag_runs, neerslag_controle, neerslag_hoge_res,
     neerslag_mediaan, (0, 28), list(range(0, 29, 2))),
    ('Windsnelheid (m/sec)', wind_runs, wind_controle, wind_hoge_res,
     wind_mediaan, (0, 15), [0, 5, 10, 15]),
    ('Temperatuur (°C)', temp_runs, temp_controle, temp_hoge_res,
     temp_mediaan, (5, 35), [5, 10, 15, 20, 25, 30, 35]),
]

x_links = pd.Timestamp('2017-06-22 01:20')
x_rechts = pd.Timestamp('2017-07-07 02:35')
dag_num = mdates.date2num(dagen.to_pydatetime())

for p, (titel, runs, controle, hoge_res, mediaan, ylim, yticks) in enumerate(panelen):
    o = p * 400

    # kader rond paneel
    fig.add_artist(Rectangle((1 / W, 1 - (o + 397) / H), 797 / W, 396 / H,
                             transform=fig.transFigure, fill=False,
                             ec='#a3bbdb', lw=1))
    fig.text(0.5, 1 - (o + 18) / H, titel, ha='center', va='center',
             fontsize=13, color='#333333')
    fig.text(0.5, 1 - (o + 44) / H,
             'De Bilt, donderdag 22 juni 2017 (Versie do 00 uur)',
             ha='center', va='center', fontsize=9, color='#666666')
    fig.text(790 / W, 1 - (o + 392) / H, 'Bron: ECMWF/KNMI', ha='right',
             va='center', fontsize=6.5, color='#999999')

    ax = fig.add_axes([47 / W, 1 - (o + 321) / H, 701 / W, 256 / H])

    # grijze banden om de dag
    for d in dagen[0::2]:
        ax.axvspan(d, d + pd.Timedelta(days=1), color='#f2f2f2', lw=0, zorder=0)

    lang = pd.concat([pd.DataFrame({'tijd': tijden, 'waarde': r, 'run': k})
                      for k, r in enumerate(runs)])
    sns.lineplot(data=lang, x='tijd', y='waarde', units='run', estimator=None,
                 color=GROEN, lw=0.85, alpha=0.7, ax=ax, legend=False,
                 clip_on=False, zorder=2)
    sns.lineplot(x=tijden, y=mediaan, color=BRUIN, lw=1.4,
                 linestyle=(0, (3, 1.8)), ax=ax, clip_on=False, zorder=3)
    sns.lineplot(x=tijden, y=controle, color='black', lw=1.9,
                 linestyle=(0, (2.6, 1.6)), ax=ax, clip_on=False, zorder=4)
    sns.lineplot(x=tijden[:len(hoge_res)], y=hoge_res, color=ROOD, lw=1.9,
                 ax=ax, clip_on=False, zorder=5)

    ax.set_xlim(x_links, x_rechts)
    ax.set_ylim(*ylim)
    ax.set_yticks(yticks)
    ax.set_xticks(dag_num, labels=dag_labels, ha='left', linespacing=1.5)
    ax.set_xlabel('')
    ax.set_ylabel('')
    ax.set_axisbelow(True)
    ax.yaxis.grid(True, color='#e6e6e6', lw=1, zorder=1)
    ax.xaxis.grid(False)
    for s in ['top', 'right', 'left']:
        ax.spines[s].set_visible(False)
    ax.spines['bottom'].set_color('#ccd6eb')
    ax.spines['bottom'].set_linewidth(1)
    ax.tick_params(axis='x', length=7.5, width=1, color='#ccd6eb', pad=1,
                   labelsize=7.5, labelcolor='#666666', bottom=True)
    ax.tick_params(axis='y', length=0, pad=8.6, labelsize=7.5,
                   labelcolor='#666666', left=True)

    ax2 = ax.twinx()
    ax2.set_ylim(*ylim)
    ax2.set_yticks(yticks)
    ax2.tick_params(axis='y', length=0, pad=14.8, labelsize=7.5,
                    labelcolor='#666666')
    for lbl in ax2.get_yticklabels():
        lbl.set_horizontalalignment('right')
    for s in ax2.spines.values():
        s.set_visible(False)
    ax2.grid(False)

    handles = [
        Line2D([], [], color='black', lw=2, linestyle=(0, (2.2, 1.4))),
        Line2D([], [], color=ROOD, lw=2),
        Line2D([], [], color=BRUIN, lw=2, linestyle=(0, (2.2, 1.4))),
        Line2D([], [], color='#1e801e', lw=2),
    ]
    fig.legend(handles, ['Controle', 'Hoge resolutie', 'Middelste (P50)', 'Verstoorde runs'],
               loc='center', bbox_to_anchor=(0.5, 1 - (o + 378) / H), ncol=4,
               frameon=False, fontsize=9, handlelength=1.2, handletextpad=0.5,
               columnspacing=0.75, labelcolor='#333333')

plt.savefig('out.png', dpi=100)
plt.close()
